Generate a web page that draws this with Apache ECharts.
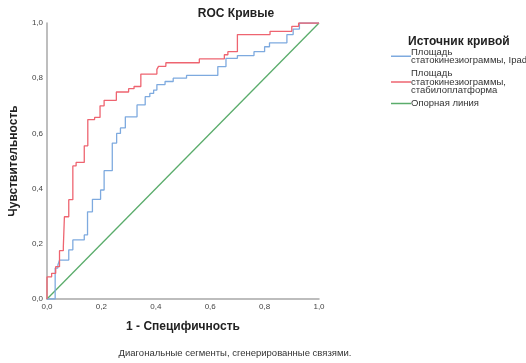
<!DOCTYPE html>
<html>
<head>
<meta charset="utf-8">
<script src="https://cdn.jsdelivr.net/npm/echarts@6/dist/echarts.min.js"></script>
<style>
  html, body { margin: 0; padding: 0; background: #fff; }
  #chart { width: 526px; height: 363px; }
</style>
</head>
<body>
<div id="chart"></div>
<script>
// ROC curve vertices (1 - specificity, sensitivity) for each source
const ipadFpr = [0, 0.03, 0.03, 0.04, 0.04, 0.046, 0.046, 0.08, 0.08, 0.095, 0.095, 0.137, 0.137, 0.149, 0.149, 0.167, 0.167, 0.197, 0.197, 0.21, 0.21, 0.24, 0.24, 0.256, 0.256, 0.27, 0.27, 0.288, 0.288, 0.331, 0.331, 0.361, 0.361, 0.378, 0.378, 0.392, 0.392, 0.404, 0.404, 0.434, 0.434, 0.464, 0.464, 0.513, 0.513, 0.628, 0.628, 0.658, 0.658, 0.70, 0.70, 0.761, 0.761, 0.80, 0.80, 0.818, 0.818, 0.882, 0.882, 0.905, 0.905, 0.928, 0.928, 1];
const ipadTpr = [0, 0, 0.112, 0.112, 0.123, 0.123, 0.141, 0.141, 0.178, 0.178, 0.214, 0.214, 0.232, 0.232, 0.316, 0.316, 0.361, 0.361, 0.395, 0.395, 0.465, 0.465, 0.565, 0.565, 0.60, 0.60, 0.62, 0.62, 0.66, 0.66, 0.703, 0.703, 0.733, 0.733, 0.745, 0.745, 0.757, 0.757, 0.777, 0.777, 0.788, 0.788, 0.80, 0.80, 0.81, 0.81, 0.842, 0.842, 0.872, 0.872, 0.882, 0.882, 0.896, 0.896, 0.914, 0.914, 0.928, 0.928, 0.958, 0.958, 0.978, 0.978, 1, 1];

const platformFpr = [0, 0, 0.017, 0.017, 0.032, 0.032, 0.046, 0.046, 0.06, 0.06, 0.064, 0.064, 0.08, 0.08, 0.095, 0.095, 0.107, 0.107, 0.137, 0.137, 0.15, 0.15, 0.175, 0.175, 0.195, 0.195, 0.21, 0.21, 0.255, 0.255, 0.30, 0.30, 0.32, 0.32, 0.345, 0.345, 0.404, 0.404, 0.41, 0.41, 0.437, 0.437, 0.56, 0.56, 0.652, 0.652, 0.665, 0.665, 0.70, 0.70, 0.82, 0.82, 0.90, 0.90, 0.925, 0.925, 1];
const platformTpr = [0, 0.08, 0.08, 0.093, 0.093, 0.117, 0.117, 0.175, 0.175, 0.188, 0.188, 0.298, 0.298, 0.36, 0.36, 0.482, 0.482, 0.495, 0.495, 0.555, 0.555, 0.65, 0.65, 0.658, 0.658, 0.70, 0.70, 0.72, 0.72, 0.75, 0.75, 0.762, 0.762, 0.77, 0.77, 0.815, 0.815, 0.832, 0.832, 0.843, 0.843, 0.856, 0.856, 0.87, 0.87, 0.885, 0.885, 0.896, 0.896, 0.958, 0.958, 0.97, 0.97, 0.988, 0.988, 1, 1];

const referenceFpr = [0, 1];
const referenceTpr = [0, 1];

const seriesNames = [
  'Площадь\nстатокинезиограммы, Ipad',
  'Площадь\nстатокинезиограммы,\nстабилоплатформа',
  'Опорная линия'
];
const seriesColors = ['#7eaadf', '#ee6470', '#5aac6b'];
const tickLabels = ['0,0', '0,2', '0,4', '0,6', '0,8', '1,0'];

function pairs(xs, ys) {
  return xs.map((x, i) => [x, ys[i]]);
}

const tickText = v => tickLabels[Math.round(v / 0.2)];
const font = 'Liberation Sans, Arial, sans-serif';

const chart = echarts.init(document.getElementById('chart'), null, { renderer: 'canvas' });
chart.setOption({
  animation: false,
  textStyle: { fontFamily: font },
  title: [
    {
      text: 'ROC Кривые',
      left: 231, top: 3, textAlign: 'center',
      textStyle: { fontSize: 12, fontWeight: 'bold', color: '#222', fontFamily: font }
    },
    {
      text: 'Источник кривой',
      left: 403, top: 31,
      textStyle: { fontSize: 12, fontWeight: 'bold', color: '#222', fontFamily: font }
    },
    {
      text: 'Диагональные сегменты, сгенерированные связями.',
      left: 230, top: 343, textAlign: 'center',
      textStyle: { fontSize: 9.5, fontWeight: 'normal', color: '#333', fontFamily: font }
    }
  ],
  legend: {
    orient: 'vertical',
    left: 386, top: 42,
    icon: 'rect',
    itemWidth: 20, itemHeight: 1.5, itemGap: 3,
    data: seriesNames,
    textStyle: { fontSize: 9.5, lineHeight: 8.5, color: '#333', padding: [0, 0, 0, -5], fontFamily: font }
  },
  grid: { left: 44, right: 207, top: 23, bottom: 64 },
  xAxis: {
    type: 'value', min: 0, max: 1, interval: 0.2,
    name: '1 - Специфичность', nameLocation: 'middle', nameGap: 22,
    nameTextStyle: { fontSize: 12, fontWeight: 'bold', color: '#222' },
    axisLine: { show: true, lineStyle: { color: '#a8a8a8', width: 1.5 } },
    axisTick: { show: false },
    splitLine: { show: false },
    axisLabel: { fontSize: 8, color: '#444', margin: 4, formatter: tickText }
  },
  yAxis: {
    type: 'value', min: 0, max: 1, interval: 0.2,
    name: 'Чувствительность', nameLocation: 'middle', nameGap: 27,
    nameTextStyle: { fontSize: 12, fontWeight: 'bold', color: '#222' },
    axisLine: { show: true, lineStyle: { color: '#a8a8a8', width: 1.5 } },
    axisTick: { show: false },
    splitLine: { show: false },
    axisLabel: { fontSize: 8, color: '#444', margin: 4, formatter: tickText }
  },
  series: [
    {
      name: seriesNames[0], type: 'line', symbol: 'none',
      data: pairs(ipadFpr, ipadTpr),
      lineStyle: { color: seriesColors[0], width: 1.3 },
      itemStyle: { color: seriesColors[0] }, z: 3
    },
    {
      name: seriesNames[1], type: 'line', symbol: 'none',
      data: pairs(platformFpr, platformTpr),
      lineStyle: { color: seriesColors[1], width: 1.3 },
      itemStyle: { color: seriesColors[1] }, z: 4
    },
    {
      name: seriesNames[2], type: 'line', symbol: 'none',
      data: pairs(referenceFpr, referenceTpr),
      lineStyle: { color: seriesColors[2], width: 1.3 },
      itemStyle: { color: seriesColors[2] }, z: 2
    }
  ]
});
</script>
</body>
</html>
